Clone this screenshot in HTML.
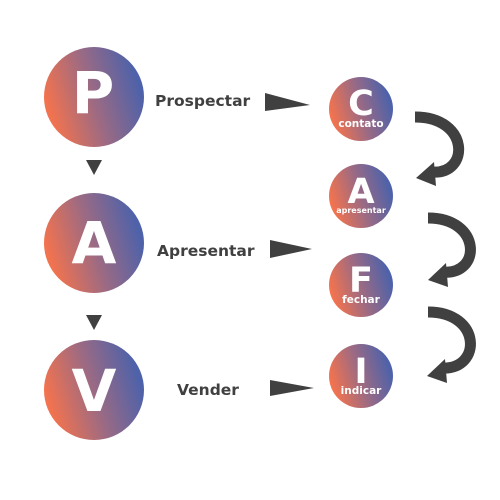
<!DOCTYPE html>
<html><head><style>
body{margin:0;background:#fff;}
svg{display:block;}
text{font-family:"DejaVu Sans","Liberation Sans",sans-serif;font-weight:bold;}
</style></head><body>
<svg width="500" height="500" viewBox="0 0 500 500">
<defs>
<linearGradient id="g" x1="0" y1="0.65" x2="1" y2="0.35">
<stop offset="0.05" stop-color="#f2734f"/>
<stop offset="0.5" stop-color="#9a6a84"/>
<stop offset="0.95" stop-color="#4d62aa"/>
</linearGradient>
</defs>
<g fill="url(#g)">
<circle cx="94" cy="97" r="50"/>
<circle cx="94" cy="243" r="50"/>
<circle cx="94" cy="390" r="50"/>
<circle cx="361" cy="109" r="32"/>
<circle cx="361" cy="196" r="32"/>
<circle cx="361" cy="285" r="32"/>
<circle cx="361" cy="376" r="32"/>
</g>
<g fill="#fff" text-anchor="middle">
<text x="93" y="113" font-size="58">P</text>
<text x="94" y="263" font-size="58">A</text>
<text x="94" y="411" font-size="58">V</text>
<text x="361" y="115" font-size="35">C</text>
<text x="361" y="127" font-size="10.5">contato</text>
<text x="361" y="203" font-size="35">A</text>
<text x="361" y="213" font-size="8">apresentar</text>
<text x="361" y="292" font-size="35">F</text>
<text x="361" y="303" font-size="10.5">fechar</text>
<text x="361" y="383" font-size="35">I</text>
<text x="361" y="394" font-size="10.5">indicar</text>
</g>
<g fill="#404040">
<text x="155" y="106" font-size="15.5">Prospectar</text>
<text x="157" y="256" font-size="15.5">Apresentar</text>
<text x="177" y="395" font-size="15.5">Vender</text>
<polygon points="265,93 310,105 265,111"/>
<polygon points="270,240 312,249 270,258"/>
<polygon points="270,380 314,388 270,396"/>
<polygon points="86,160 102,160 94,175"/>
<polygon points="86,315 102,315 94,330"/>
</g>
<g fill="none" stroke="#404040" stroke-width="11">
<path d="M415 117 C 470 117, 470 175, 432 172"/>
<path d="M428 218 C 482 218, 482 276, 442 272"/>
<path d="M428 312 C 482 312, 482 370, 442 368"/>
</g>
<g fill="#404040">
<polygon points="416,178 434,162 436,186"/>
<polygon points="428,280 446,263 448,287"/>
<polygon points="427,376 445,359 447,383"/>
</g>
</svg>
</body></html>
